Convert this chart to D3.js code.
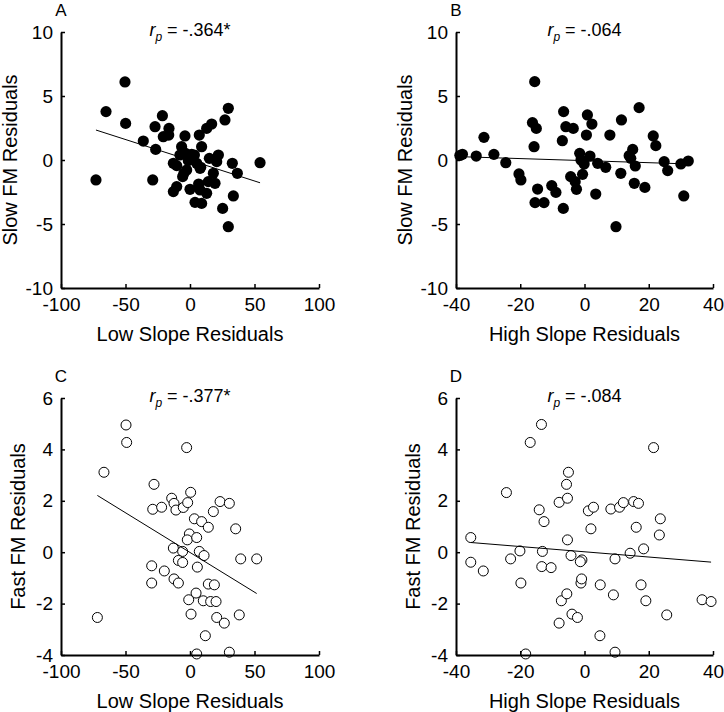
<!DOCTYPE html>
<html><head><meta charset="utf-8">
<script src="https://cdn.jsdelivr.net/npm/d3@7"></script>
<style>
body{margin:0;background:#fff}
text{font-family:"Liberation Sans",Arial,Helvetica,sans-serif;fill:#000}
</style>
</head><body>
<svg id="chart" width="724" height="712"></svg>
<script>
// Panel A: Low slope residuals vs Slow FM residuals
const aX=[-50.4,-65.1,-49.9,-72.9,-36.2,-26.6,-27.1,-28.9,-21.4,-16.3,-16.5,-20.7,-3.9,-6.5,-7.8,-12.9,-10.3,-3.4,-1.3,-4.7,-5.7,-2.6,3.4,5.2,7.8,9.0,7.2,12.9,16.8,27.1,29.7,15.0,22.0,20.7,18.1,19.4,14.2,32.8,36.7,33.6,25.3,29.7,54.3,-12.9,-10.3,0.0,6.7,7.8,3.9,9.0,12.9,1.3,8.3];
const aY=[6.1,3.78,2.86,-1.56,1.48,0.83,2.6,-1.56,3.46,2.47,1.95,1.82,1.88,1.04,0.39,-0.26,-0.44,0.52,-0.05,-1.04,-1.30,-0.78,0.39,-0.26,-0.65,1.04,1.95,2.47,2.81,3.13,4.04,0.13,0.39,-0.13,-1.04,-1.82,-1.69,-0.26,-1.04,-2.81,-3.78,-5.21,-0.21,-2.47,-2.08,-2.29,-1.88,-2.34,-3.31,-3.39,-2.60,0.44,-0.57];
// Panel B: High slope residuals vs Slow FM residuals
const bX=[-38.8,-38.0,-33.7,-31.3,-28.2,-24.5,-20.4,-19.8,-15.5,-16.2,-15.0,-15.7,-14.6,-15.4,-12.6,-10.2,-8.9,-6.5,-5.8,-3.5,-6.9,-6.6,-4.3,-2.9,-2.5,-0.6,-1.5,-1.1,-0.1,0.9,2.3,0.6,1.7,4.1,3.5,6.6,7.9,11.5,11.3,13.9,15.0,14.4,15.8,15.5,17.0,18.8,21.4,22.2,24.8,25.9,30.0,32.3,30.9,9.8];
const bY=[0.35,0.45,0.31,1.77,0.44,-0.21,-1.09,-1.56,6.12,2.92,2.47,1.04,-2.27,-3.33,-3.33,-2.0,-2.53,3.78,2.6,2.47,1.51,-3.78,-1.3,-1.69,-2.29,-1.12,0.52,0.0,-0.31,3.52,2.81,1.95,0.31,-0.26,-2.66,-0.57,1.95,3.13,-1.04,0.34,0.83,0.13,-0.47,-1.82,4.09,-2.14,1.88,1.12,-0.13,-0.83,-0.31,-0.08,-2.81,-5.21];
// Panel C: Low slope residuals vs Fast FM residuals
const cX=[-49.6,-49.1,-66.7,-71.8,-2.6,-27.9,-28.9,-22.0,-14.2,-12.4,-10.9,-5.2,0.5,-1.8,3.4,9.0,14.2,18.1,23.3,30.5,35.4,-0.5,-2.1,5.2,-12.9,-5.7,7.2,10.9,-9.0,-5.7,5.7,-29.7,-19.9,-12.4,-9.0,-29.7,39.3,51.7,14.2,18.9,4.7,-1.0,10.3,16.0,20.2,0.8,20.7,26.6,38.2,11.9,5.2,30.5];
const cY=[4.95,4.27,3.11,-2.54,4.07,2.64,1.67,1.75,2.10,1.90,1.64,1.74,2.33,1.93,1.30,1.19,0.97,1.58,1.97,1.90,0.91,0.71,0.48,0.57,0.16,0.03,0.03,-0.13,-0.32,-0.40,-0.58,-0.53,-0.73,-1.04,-1.20,-1.20,-0.26,-0.26,-1.24,-1.27,-1.59,-1.85,-1.89,-1.92,-1.92,-2.41,-2.54,-2.76,-2.44,-3.25,-3.96,-3.89];
// Panel D: High slope residuals vs Fast FM residuals
const dX=[-35.4,-35.4,-31.5,-24.3,-23.0,-20.1,-19.8,-18.3,-16.9,-13.4,-14.1,-12.6,-13.1,-13.3,-10.4,-7.9,-7.2,-7.9,-5.0,-5.6,-5.3,-5.3,-4.2,-5.5,-3.9,-2.2,-0.8,-1.3,-1.1,-0.9,1.2,2.8,2.0,4.9,4.8,8.2,10.9,12.1,15.3,16.8,16.1,9.5,9.0,9.5,14.2,18.4,17.6,19.1,21.5,23.3,23.6,25.6,36.6,39.4];
const dY=[0.57,-0.39,-0.73,2.32,-0.26,0.05,-1.20,-3.96,4.27,4.97,1.65,1.19,0.03,-0.56,-0.60,1.94,-1.89,-2.76,3.11,2.64,2.10,0.48,-0.13,-1.62,-2.41,-2.54,-0.30,-0.37,-1.20,-1.04,1.61,1.75,0.91,-1.27,-3.25,1.68,1.75,1.93,1.97,1.90,0.97,-0.26,-1.66,-3.89,-0.04,0.13,-1.27,-1.89,4.07,0.67,1.30,-2.44,-1.85,-1.92];

// Regression fits: [intercept, slope]
const fitA=[-0.02,-0.0324];
const fitB=[-0.05,-0.0080];
const fitC=[-0.01,-0.0309];
const fitD=[0.016,-0.0102];

const lowTicks=[-100,-50,0,50,100];
const highTicks=[-40,-20,0,20,40];
const slowTicks=[-10,-5,0,5,10];
const fastTicks=[-4,-2,0,2,4,6];

const panelLetters=["A","B","C","D"];
const rValues=["= -.364*","= -.064","= -.377*","= -.084"];
const xTitles=["Low Slope Residuals","High Slope Residuals","Low Slope Residuals","High Slope Residuals"];
const yTitles=["Slow FM Residuals","Slow FM Residuals","Fast FM Residuals","Fast FM Residuals"];

const svg=d3.select("#chart");

const panels=[
  {x:aX,y:aY,fit:fitA,xt:lowTicks,yt:slowTicks,filled:true, left:61, right:319, top:32, bottom:288, yTitleOff:44},
  {x:bX,y:bY,fit:fitB,xt:highTicks,yt:slowTicks,filled:true, left:456, right:713, top:32, bottom:288, yTitleOff:44},
  {x:cX,y:cY,fit:fitC,xt:lowTicks,yt:fastTicks,filled:false, left:61, right:319, top:398, bottom:655, yTitleOff:36},
  {x:dX,y:dY,fit:fitD,xt:highTicks,yt:fastTicks,filled:false, left:456, right:713, top:398, bottom:655, yTitleOff:36}
];

panels.forEach((p,i)=>{
  const xs=d3.scaleLinear().domain(d3.extent(p.xt)).range([p.left,p.right]);
  const ys=d3.scaleLinear().domain(d3.extent(p.yt)).range([p.bottom,p.top]);
  const g=svg.append("g");

  // points
  const pts=d3.zip(p.x,p.y);
  g.append("g").selectAll("circle").data(pts).join("circle")
    .attr("cx",d=>xs(d[0])).attr("cy",d=>ys(d[1]))
    .attr("r",p.filled?5.6:5.0)
    .attr("fill",p.filled?"#000":"#fff")
    .attr("stroke","#000").attr("stroke-width",p.filled?0:1);

  // regression line
  const ext=d3.extent(p.x);
  const line=d3.line().x(d=>xs(d)).y(d=>ys(p.fit[0]+p.fit[1]*d));
  g.append("path").datum(ext).attr("d",line)
    .attr("fill","none").attr("stroke","#000").attr("stroke-width",1);

  // axes
  const xa=g.append("g").attr("transform",`translate(0,${p.bottom})`)
    .call(d3.axisBottom(xs).tickValues(p.xt).tickSizeInner(-4).tickSizeOuter(0).tickPadding(10).tickFormat(d3.format("d")));
  const ya=g.append("g").attr("transform",`translate(${p.left},0)`)
    .call(d3.axisLeft(ys).tickValues(p.yt).tickSizeInner(-4).tickSizeOuter(0).tickPadding(8).tickFormat(d3.format("d")));
  [xa,ya].forEach(a=>{
    a.select(".domain").attr("stroke","#000").attr("stroke-width",2);
    a.selectAll(".tick line").attr("stroke","#000").attr("stroke-width",1.5);
    a.selectAll(".tick text").attr("font-size",19).attr("fill","#000")
      .style("font-family",'"Liberation Sans",Arial,sans-serif');
  });
  xa.selectAll(".tick text").text(d=>d<0?"-"+Math.abs(d):d);
  ya.selectAll(".tick text").text(d=>d<0?"-"+Math.abs(d):d);

  // axis titles
  g.append("text").attr("x",(p.left+p.right)/2).attr("y",p.bottom+53)
    .attr("text-anchor","middle").attr("font-size",20).text(xTitles[i]);
  g.append("text").attr("transform",`translate(${p.left-p.yTitleOff},${(p.top+p.bottom)/2}) rotate(-90)`)
    .attr("text-anchor","middle").attr("font-size",20).text(yTitles[i]);

  // panel letter
  g.append("text").attr("x",p.left).attr("y",p.top-16)
    .attr("text-anchor","middle").attr("font-size",17).text(panelLetters[i]);

  // correlation annotation
  const t=g.append("text").attr("x",(p.left+p.right)/2).attr("y",p.top+4)
    .attr("text-anchor","middle").attr("font-size",18);
  t.append("tspan").attr("font-style","italic").text("r");
  t.append("tspan").attr("font-style","italic").attr("font-size",12).attr("dy",5).text("p");
  t.append("tspan").attr("dy",-5).text(" "+rValues[i]);
});
</script>
</body></html>
